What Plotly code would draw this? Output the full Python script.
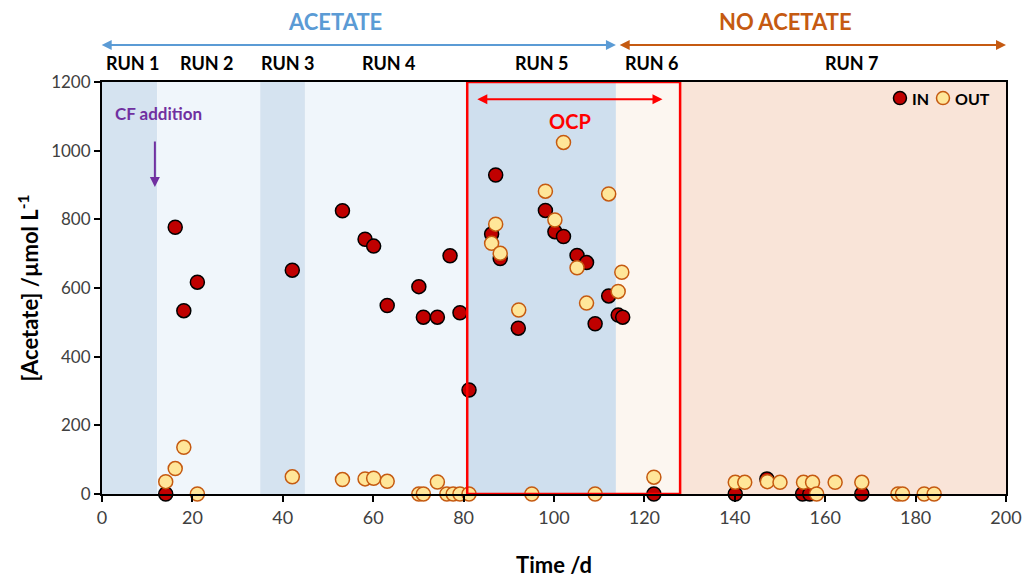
import plotly.graph_objects as go

# Influent (IN) acetate concentrations
in_day = [14.1, 16.2, 18.1, 21.1, 42.1, 53.2, 58.2, 60.1, 63.1, 70.1, 71.1, 74.2, 77.0, 79.2, 81.2,
          86.2, 87.1, 88.1, 92.1, 98.1, 100.2, 102.1, 105.1, 107.2, 109.1, 112.1, 114.2, 115.2, 122.1,
          140.1, 147.1, 155.0, 156.6, 168.1]
in_conc = [0, 777, 534, 617, 652, 825, 742, 722, 549, 604, 515, 515, 694, 528, 303,
           757, 929, 686, 483, 826, 764, 750, 695, 674, 496, 577, 521, 515, 0,
           0, 44, 0, 0, 0]

# Effluent (OUT) acetate concentrations
out_day = [14.1, 16.2, 18.1, 21.1, 42.1, 53.2, 58.2, 60.1, 63.1, 70.1, 71.1, 74.2, 76.3, 77.7, 79.2, 81.2,
           86.2, 87.1, 88.1, 92.2, 95.1, 98.1, 100.2, 102.1, 105.1, 107.2, 109.1, 112.1, 114.2, 115.0, 122.1,
           140.1, 142.2, 147.2, 150.0, 155.2, 157.2, 158.1, 162.2, 168.1, 176.1, 177.1, 181.9, 184.1]
out_conc = [36, 74, 136, 0, 50, 42, 44, 46, 37, 0, 0, 35, 0, 0, 0, 0,
            730, 786, 701, 536, 0, 882, 798, 1024, 659, 556, 0, 874, 590, 646, 49,
            34, 34, 36, 34, 34, 34, 0, 34, 34, 0, 0, 0, 0]

# Operating periods (start day, end day, fill colour)
run_bounds = [(0, 12.2), (12.2, 35), (35, 44.9), (44.9, 80.8), (80.8, 113.7), (113.7, 127.9), (127.9, 200)]
run_fills = ["#d5e3f0", "#f0f6fb", "#d5e3f0", "#f0f6fb", "#cfdfee", "#fcf6f0", "#f9e4d8"]
run_labels = ["RUN 1", "RUN 2", "RUN 3", "RUN 4", "RUN 5", "RUN 6", "RUN 7"]
run_label_x = [6.8, 23.2, 41.1, 63.5, 97.3, 121.7, 165.9]

ocp_start, ocp_end = 80.8, 127.9

FONT = "Lato"
IN_FILL, IN_EDGE = "#c00000", "#000000"
OUT_FILL, OUT_EDGE = "#ffe699", "#c55a11"

fig = go.Figure()

fig.add_trace(go.Scatter(
    x=in_day, y=in_conc, mode="markers", name="IN",
    marker=dict(size=14, color=IN_FILL, line=dict(color=IN_EDGE, width=1.5)),
    cliponaxis=False,
))
fig.add_trace(go.Scatter(
    x=out_day, y=out_conc, mode="markers", name="OUT",
    marker=dict(size=14, color=OUT_FILL, line=dict(color=OUT_EDGE, width=1.5)),
    cliponaxis=False,
))

shapes = []
for (x0, x1), col in zip(run_bounds, run_fills):
    shapes.append(dict(type="rect", xref="x", yref="y", x0=x0, x1=x1, y0=0, y1=1200,
                       fillcolor=col, line=dict(width=0), layer="below"))
# OCP period frame
shapes.append(dict(type="rect", xref="x", yref="y", x0=ocp_start, x1=ocp_end, y0=0, y1=1200,
                   fillcolor="rgba(0,0,0,0)", line=dict(color="#ff0000", width=2.5), layer="above"))

# Compact key in the top-right corner of the plot
key_y = 0.961
for kx, fill, edge in [(0.8827, IN_FILL, IN_EDGE), (0.9303, OUT_FILL, OUT_EDGE)]:
    shapes.append(dict(type="circle", xref="paper", yref="paper", xsizemode="pixel", ysizemode="pixel",
                       xanchor=kx, yanchor=key_y, x0=-6.5, x1=6.5, y0=-6.5, y1=6.5,
                       fillcolor=fill, line=dict(color=edge, width=1.5), layer="above"))

annotations = []
annotations.append(dict(xref="paper", yref="paper", x=0.8935, y=key_y, xanchor="left", yanchor="middle",
                        text="<b>IN</b>", showarrow=False, font=dict(family=FONT, size=16, color="#000000")))
annotations.append(dict(xref="paper", yref="paper", x=0.9415, y=key_y, xanchor="left", yanchor="middle",
                        text="<b>OUT</b>", showarrow=False, font=dict(family=FONT, size=16, color="#000000")))

# Acetate / no acetate headers with double arrows
annotations.append(dict(xref="x", yref="paper", x=51.5, y=1.146, yanchor="middle", text="<b>ACETATE</b>",
                        showarrow=False, font=dict(family=FONT, size=22, color="#5b9bd5")))
annotations.append(dict(xref="x", yref="paper", x=151.3, y=1.146, yanchor="middle", text="<b>NO ACETATE</b>",
                        showarrow=False, font=dict(family=FONT, size=22, color="#c55a11")))
annotations.append(dict(xref="x", yref="paper", x=113.7, y=1.09, ax=-0.4, ay=0, axref="x", ayref="pixel",
                        text="", showarrow=True, arrowhead=2, arrowside="end+start", arrowsize=1,
                        arrowwidth=2, arrowcolor="#5b9bd5"))
annotations.append(dict(xref="x", yref="paper", x=200, y=1.09, ax=114.2, ay=0, axref="x", ayref="pixel",
                        text="", showarrow=True, arrowhead=2, arrowside="end+start", arrowsize=1,
                        arrowwidth=2, arrowcolor="#c55a11"))
for lbl, lx in zip(run_labels, run_label_x):
    annotations.append(dict(xref="x", yref="paper", x=lx, y=1.046, yanchor="middle", text="<b>%s</b>" % lbl,
                            showarrow=False, font=dict(family=FONT, size=18, color="#000000")))

# OCP double arrow and label
annotations.append(dict(xref="x", yref="y", x=124, y=1150, ax=82.7, ay=0, axref="x", ayref="pixel",
                        text="", showarrow=True, arrowhead=2, arrowside="end+start", arrowsize=1,
                        arrowwidth=2, arrowcolor="#ff0000"))
annotations.append(dict(xref="x", yref="y", x=103.5, y=1085, text="<b>OCP</b>", showarrow=False,
                        font=dict(family=FONT, size=20, color="#ff0000")))

# CF addition marker
annotations.append(dict(xref="x", yref="y", x=12.5, y=1107, text="<b>CF addition</b>", showarrow=False,
                        font=dict(family=FONT, size=17, color="#7030a0")))
annotations.append(dict(xref="x", yref="y", x=11.7, y=894, ax=0, ay=-47, axref="pixel", ayref="pixel",
                        text="", showarrow=True, arrowhead=2, arrowsize=1, arrowwidth=2,
                        arrowcolor="#7030a0"))

fig.update_layout(
    width=1026, height=578,
    margin=dict(l=102, r=20, t=82, b=84, autoexpand=False),
    paper_bgcolor="#ffffff", plot_bgcolor="#ffffff",
    shapes=shapes, annotations=annotations,
    showlegend=False,
    font=dict(family=FONT),
)

fig.update_xaxes(
    range=[0, 200], tickvals=list(range(0, 201, 20)), automargin=False,
    showgrid=False, zeroline=False,
    showline=True, linecolor="#000000", linewidth=2, mirror=True,
    ticks="outside", ticklen=6, tickcolor="#000000", tickwidth=1.5,
    tickfont=dict(family=FONT, size=18, color="#404040"),
    title=dict(text="<b>Time /d</b>", font=dict(family=FONT, size=22, color="#000000"), standoff=34),
)
fig.update_yaxes(
    range=[0, 1200], tickvals=list(range(0, 1201, 200)), automargin=False,
    showgrid=False, zeroline=False,
    showline=True, linecolor="#000000", linewidth=2, mirror=True,
    ticks="outside", ticklen=6, tickcolor="#000000", tickwidth=1.5,
    tickfont=dict(family=FONT, size=17, color="#404040"),
    title=dict(text="<b>[Acetate] /µmol L<sup>-1</sup></b>", font=dict(family=FONT, size=22, color="#000000"),
               standoff=6),
)

fig.write_html("out.html")
